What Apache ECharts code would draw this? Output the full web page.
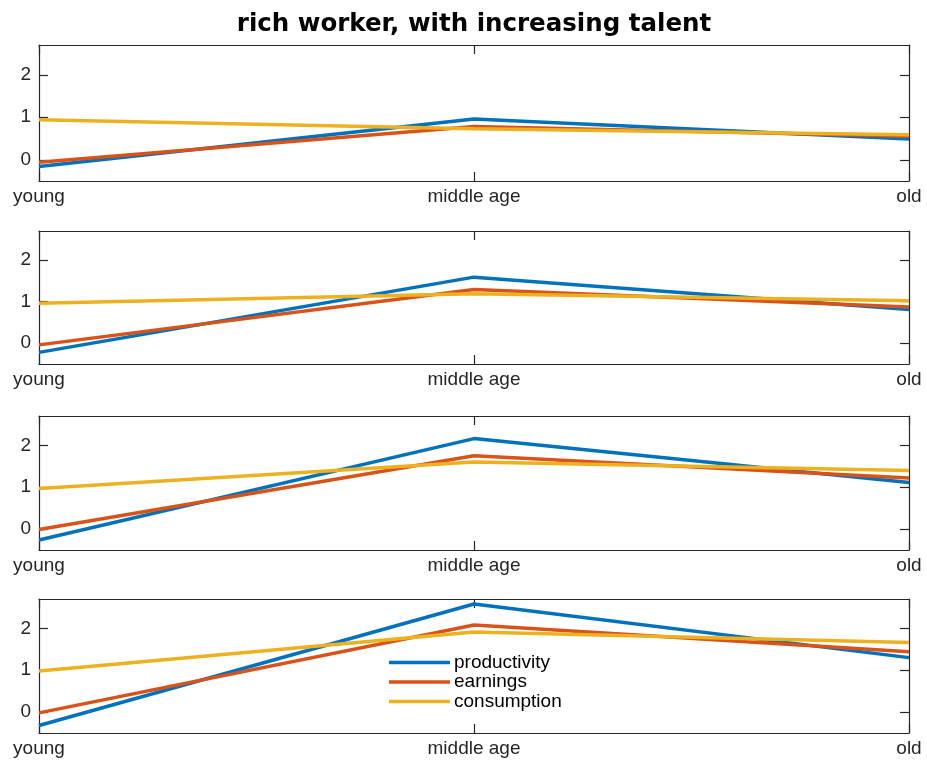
<!DOCTYPE html>
<html>
<head>
<meta charset="utf-8">
<script src="https://cdn.jsdelivr.net/npm/echarts@6/dist/echarts.min.js"></script>
<style>
html,body{margin:0;padding:0;background:#fff;}
#chart{width:927px;height:763px;}
</style>
</head>
<body>
<div id="chart"></div>
<script>
var categories = ['young', 'middle age', 'old'];
var yTicks = [0, 1, 2];
var seriesNames = ['productivity', 'earnings', 'consumption'];

var productivity1 = [-0.16, 0.96, 0.49];
var earnings1 = [-0.06, 0.78, 0.55];
var consumption1 = [0.94, 0.73, 0.59];

var productivity2 = [-0.22, 1.59, 0.81];
var earnings2 = [-0.04, 1.29, 0.87];
var consumption2 = [0.96, 1.19, 1.02];

var productivity3 = [-0.26, 2.16, 1.11];
var earnings3 = [-0.01, 1.75, 1.22];
var consumption3 = [0.97, 1.60, 1.40];

var productivity4 = [-0.32, 2.58, 1.30];
var earnings4 = [-0.02, 2.08, 1.44];
var consumption4 = [0.98, 1.91, 1.66];

var panels = [
  [productivity1, earnings1, consumption1],
  [productivity2, earnings2, consumption2],
  [productivity3, earnings3, consumption3],
  [productivity4, earnings4, consumption4]
];

var colors = ['#0072BD', '#D95319', '#EDB120'];
var axisColor = '#262626';
var font = 'Liberation Sans, Arial, Helvetica, sans-serif';

var gridTops = [45, 231, 416, 599];
var gridHeights = [136, 133, 134, 134];

var grids = [], xAxes = [], yAxes = [], series = [];
for (var g = 0; g < 4; g++) {
  grids.push({left: 39, right: 18, top: gridTops[g], height: gridHeights[g], containLabel: false});
  var lineStyle = {color: axisColor, width: 1.2};
  xAxes.push({
    type: 'category', gridIndex: g, position: 'bottom', data: categories, boundaryGap: false,
    axisLine: {show: true, lineStyle: lineStyle, onZero: false},
    axisTick: {show: true, inside: true, length: 9, lineStyle: lineStyle},
    axisLabel: {show: true, color: axisColor, fontSize: 19, fontFamily: font, margin: 6, interval: 0},
    splitLine: {show: false}
  });
  xAxes.push({
    type: 'category', gridIndex: g, position: 'top', data: categories, boundaryGap: false,
    axisLine: {show: true, lineStyle: lineStyle, onZero: false},
    axisTick: {show: true, inside: true, length: 9, lineStyle: lineStyle},
    axisLabel: {show: false},
    splitLine: {show: false}
  });
  yAxes.push({
    type: 'value', gridIndex: g, position: 'left', min: -0.5, max: 2.7,
    axisLine: {show: true, lineStyle: lineStyle, onZero: false},
    axisTick: {show: true, inside: true, length: 9, lineStyle: lineStyle, customValues: yTicks},
    axisLabel: {show: true, color: axisColor, fontSize: 19, fontFamily: font, margin: 8, customValues: yTicks},
    splitLine: {show: false}
  });
  yAxes.push({
    type: 'value', gridIndex: g, position: 'right', min: -0.5, max: 2.7,
    axisLine: {show: true, lineStyle: lineStyle, onZero: false},
    axisTick: {show: true, inside: true, length: 9, lineStyle: lineStyle, customValues: yTicks},
    axisLabel: {show: false, customValues: yTicks},
    splitLine: {show: false}
  });
  for (var s = 0; s < 3; s++) {
    series.push({
      type: 'line', name: seriesNames[s], data: panels[g][s],
      xAxisIndex: g * 2, yAxisIndex: g * 2,
      symbol: 'none', smooth: false, clip: false,
      lineStyle: {color: colors[s], width: 3.5},
      itemStyle: {color: colors[s]},
      emphasis: {disabled: true},
      animation: false
    });
  }
}

var chart = echarts.init(document.getElementById('chart'), null, {renderer: 'canvas'});
chart.setOption({
  backgroundColor: '#fff',
  animation: false,
  title: {
    text: 'rich worker, with increasing talent',
    left: 474, top: 12, padding: 0, textAlign: 'center',
    textStyle: {fontSize: 24.5, fontWeight: 'bold', color: '#000', fontFamily: 'DejaVu Sans, sans-serif'}
  },
  legend: {
    orient: 'vertical', left: 389, top: 653, padding: 0,
    data: seriesNames,
    icon: 'rect', itemWidth: 61, itemHeight: 3.5, itemGap: 0.5,
    textStyle: {fontSize: 19, color: '#000', fontFamily: font, lineHeight: 18, padding: [0, 0, 0, -1]},
    selectedMode: false
  },
  grid: grids,
  xAxis: xAxes,
  yAxis: yAxes,
  series: series
});
</script>
</body>
</html>
